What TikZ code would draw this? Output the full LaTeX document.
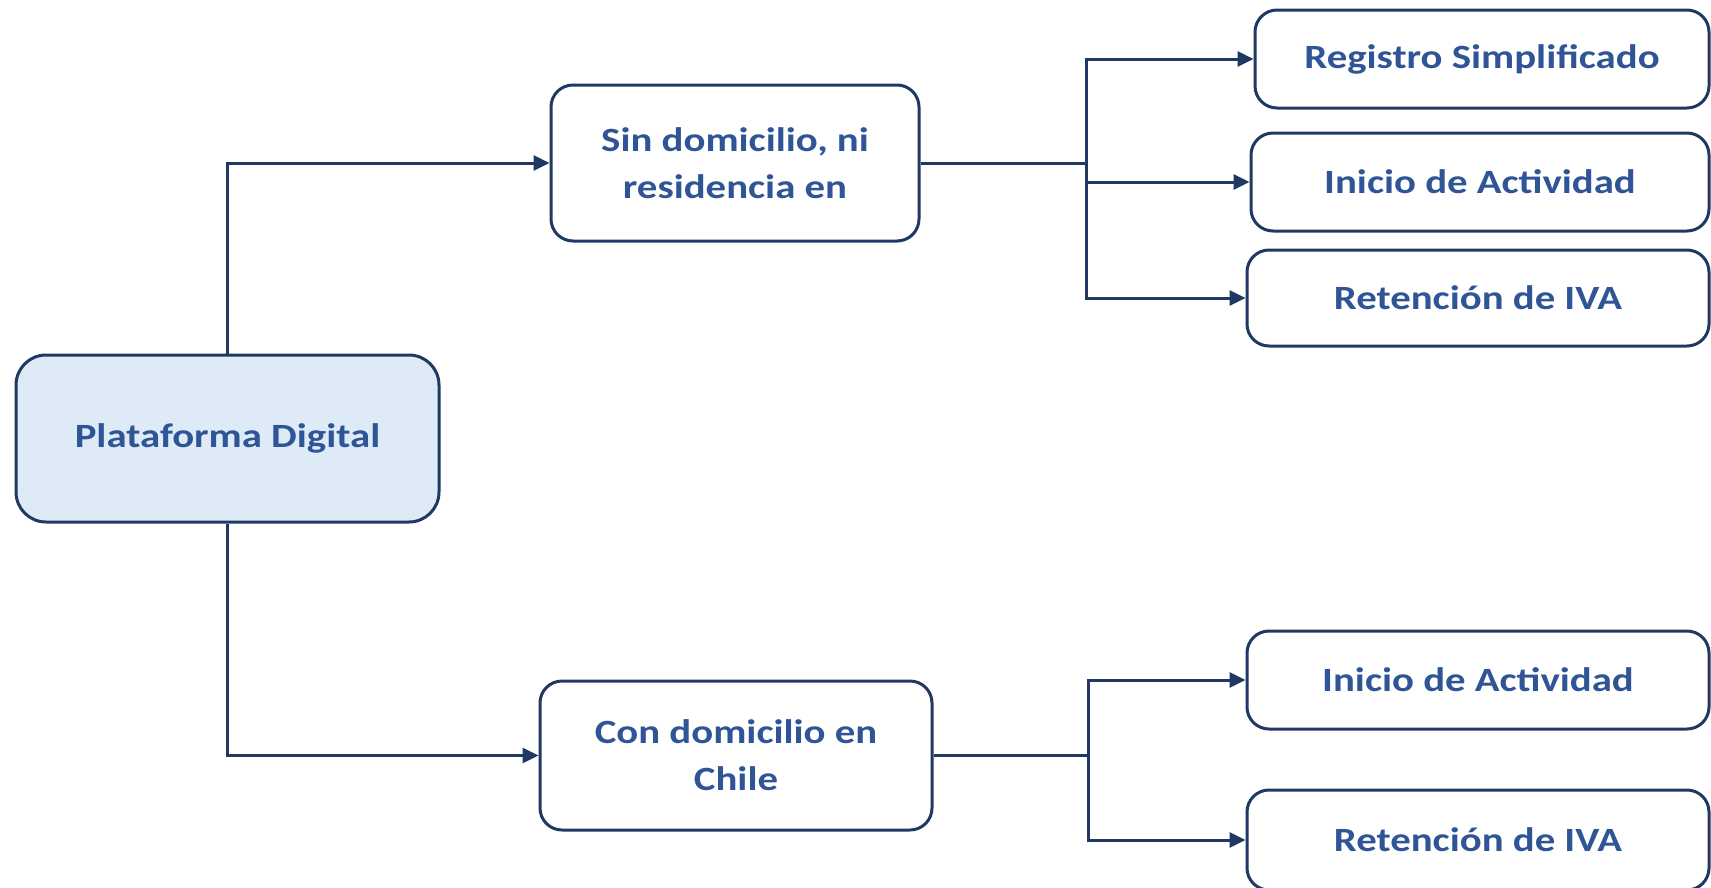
\documentclass[tikz,border=0pt]{standalone}
\usepackage{fontspec}
\setmainfont{Carlito}[FakeStretch=1.2]
\usetikzlibrary{arrows.meta}
\definecolor{navy}{HTML}{203864}
\definecolor{txtblue}{HTML}{2F5597}
\definecolor{boxfill}{HTML}{DEEBF7}
\tikzset{
  box/.style={draw=navy, line width=3pt, rounded corners=22pt, text=txtblue,
    font=\bfseries\fontsize{34}{47}\selectfont, align=center, inner sep=0pt,
    rectangle},
  link/.style={draw=navy, line width=3pt},
  arr/.style={link, -{Triangle[length=16pt,width=15pt]}},
}
\begin{document}
\begin{tikzpicture}[x=1pt,y=-1pt]
\useasboundingbox (0,0) rectangle (1711,887);
\node[box, fill=boxfill, rounded corners=30pt, minimum width=423pt, minimum height=167pt] (plat) at (227.5,438.5) {Plataforma Digital};
\node[box, minimum width=368pt, minimum height=156pt] (sin) at (735,163) {Sin domicilio, ni\\residencia en};
\node[box, minimum width=392pt, minimum height=149pt] (con) at (736,755.5) {Con domicilio en\\Chile};
\node[box, minimum width=454pt, minimum height=98pt] (reg) at (1482,59) {Registro Simplificado};
\node[box, minimum width=458pt, minimum height=98pt] (ini) at (1480,182) {Inicio de Actividad};
\node[box, minimum width=462pt, minimum height=96pt] (ret) at (1478,298) {Retención de IVA};
\node[box, minimum width=462pt, minimum height=98pt] (ini2) at (1478,680) {Inicio de Actividad};
\node[box, minimum width=462pt, minimum height=100pt] (ret2) at (1478,840) {Retención de IVA};
\coordinate (bt) at (1086,163);
\coordinate (bb) at (1088,755.5);
\draw[arr] (plat.north) |- (sin.west);
\draw[arr] (plat.south) |- (con.west);
\draw[link] (sin.east) -- (bt);
\draw[arr] (bt) |- (reg.west);
\draw[arr] (bt) |- (ini.west);
\draw[arr] (bt) |- (ret.west);
\draw[link] (con.east) -- (bb);
\draw[arr] (bb) |- (ini2.west);
\draw[arr] (bb) |- (ret2.west);
\end{tikzpicture}
\end{document}
